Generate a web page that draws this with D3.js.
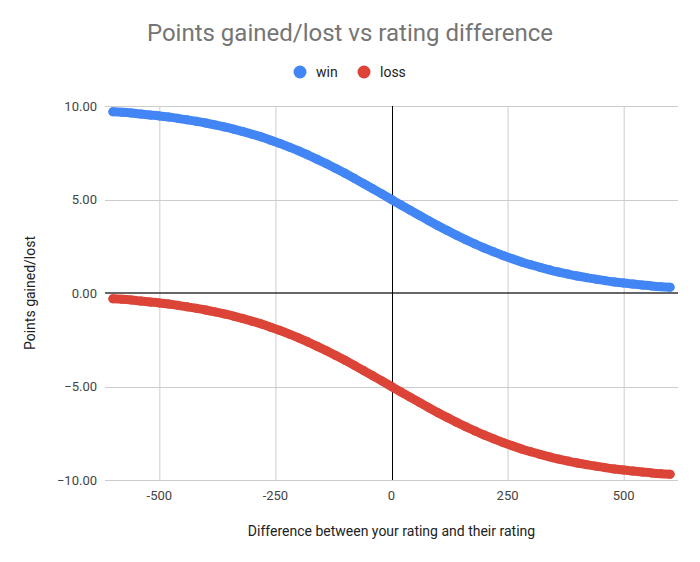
<!DOCTYPE html>
<html>
<head>
<meta charset="utf-8">
<title>Points gained/lost</title>
<style>
body {margin: 0; background: #fff;}
text {font-family: Roboto, "Noto Sans", sans-serif;}
</style>
</head>
<body>
<div id="chart"></div>
<script src="https://cdn.jsdelivr.net/npm/d3@7/dist/d3.min.js"></script>
<script>
// rating difference, every 20 points
var diffs = [-600, -580, -560, -540, -520, -500, -480, -460, -440, -420, -400,
	-380, -360, -340, -320, -300, -280, -260, -240, -220, -200,
	-180, -160, -140, -120, -100, -80, -60, -40, -20, 0,
	20, 40, 60, 80, 100, 120, 140, 160, 180, 200,
	220, 240, 260, 280, 300, 320, 340, 360, 380, 400,
	420, 440, 460, 480, 500, 520, 540, 560, 580, 600];

var win = [9.69, 9.66, 9.62, 9.57, 9.52, 9.47, 9.41, 9.34, 9.26, 9.18, 9.09,
	8.99, 8.88, 8.76, 8.63, 8.49, 8.34, 8.17, 7.99, 7.80, 7.60,
	7.38, 7.15, 6.91, 6.66, 6.40, 6.13, 5.85, 5.57, 5.29, 5.00,
	4.71, 4.43, 4.15, 3.87, 3.60, 3.34, 3.09, 2.85, 2.62, 2.40,
	2.20, 2.01, 1.83, 1.66, 1.51, 1.37, 1.24, 1.12, 1.01, 0.91,
	0.82, 0.74, 0.66, 0.59, 0.53, 0.48, 0.43, 0.38, 0.34, 0.31];

var loss = [-0.31, -0.34, -0.38, -0.43, -0.48, -0.53, -0.59, -0.66, -0.74, -0.82, -0.91,
	-1.01, -1.12, -1.24, -1.37, -1.51, -1.66, -1.83, -2.01, -2.20, -2.40,
	-2.62, -2.85, -3.09, -3.34, -3.60, -3.87, -4.15, -4.43, -4.71, -5.00,
	-5.29, -5.57, -5.85, -6.13, -6.40, -6.66, -6.91, -7.15, -7.38, -7.60,
	-7.80, -7.99, -8.17, -8.34, -8.49, -8.63, -8.76, -8.88, -8.99, -9.09,
	-9.18, -9.26, -9.34, -9.41, -9.47, -9.52, -9.57, -9.62, -9.66, -9.69];

var seriesNames = ['win', 'loss'];
var seriesColors = ['#4285f4', '#db4437'];
var xTicks = [-500, -250, 0, 250, 500];
var yTicks = [-10, -5, 0, 5, 10];

(function(d3) {
	var width = 700, height = 562;
	var left = 105, right = 678, top = 106, bottom = 480;

	var svg = d3.select('#chart').append('svg')
		.attr('width', width)
		.attr('height', height);

	var x = d3.scaleLinear().domain([-617, 617]).range([left, right]);
	var y = d3.scaleLinear().domain([-10, 10]).range([bottom, top]);

	// gridlines
	svg.append('g').selectAll('line.vg')
		.data(xTicks.filter(function(d) { return d !== 0; }))
		.enter().append('line')
		.attr('x1', function(d) { return x(d) + 0.5; })
		.attr('x2', function(d) { return x(d) + 0.5; })
		.attr('y1', top).attr('y2', bottom)
		.attr('stroke', '#cccccc').attr('stroke-width', 1);

	svg.append('g').selectAll('line.hg')
		.data(yTicks.filter(function(d) { return d !== 0; }))
		.enter().append('line')
		.attr('x1', left).attr('x2', right)
		.attr('y1', function(d) { return Math.round(y(d)) + 0.5; })
		.attr('y2', function(d) { return Math.round(y(d)) + 0.5; })
		.attr('stroke', '#cccccc').attr('stroke-width', 1);

	// zero lines
	svg.append('line')
		.attr('x1', left).attr('x2', right)
		.attr('y1', Math.round(y(0))).attr('y2', Math.round(y(0)))
		.attr('stroke', '#333333').attr('stroke-width', 1.5);
	svg.append('line')
		.attr('x1', Math.round(x(0)) + 0.5).attr('x2', Math.round(x(0)) + 0.5)
		.attr('y1', top).attr('y2', bottom)
		.attr('stroke', '#000000').attr('stroke-width', 1);

	// axis tick labels
	svg.append('g').selectAll('text')
		.data(yTicks)
		.enter().append('text')
		.attr('x', 97)
		.attr('y', function(d) { return y(d); })
		.attr('dy', '0.35em')
		.attr('text-anchor', 'end')
		.attr('font-size', 13)
		.attr('fill', '#444444')
		.text(d3.format('.2f'));

	svg.append('g').selectAll('text')
		.data(xTicks)
		.enter().append('text')
		.attr('x', function(d) { return x(d); })
		.attr('y', 495)
		.attr('dy', '0.35em')
		.attr('text-anchor', 'middle')
		.attr('font-size', 13)
		.attr('fill', '#444444')
		.text(function(d) { return d; });

	// series
	var series = [win, loss];
	var line = d3.line()
		.x(function(d, i) { return x(diffs[i]); })
		.y(function(d) { return y(d); })
		.curve(d3.curveMonotoneX);

	series.forEach(function(vals, s) {
		var g = svg.append('g');
		g.append('path')
			.datum(vals)
			.attr('d', line)
			.attr('fill', 'none')
			.attr('stroke', seriesColors[s])
			.attr('stroke-width', 9)
			.attr('stroke-linecap', 'round');
		g.selectAll('circle')
			.data(vals)
			.enter().append('circle')
			.attr('cx', function(d, i) { return x(diffs[i]); })
			.attr('cy', function(d) { return y(d); })
			.attr('r', 4.5)
			.attr('fill', seriesColors[s]);
	});

	// title
	svg.append('text')
		.attr('x', 350).attr('y', 33)
		.attr('dy', '0.35em')
		.attr('text-anchor', 'middle')
		.attr('font-size', 24)
		.attr('fill', '#757575')
		.text('Points gained/lost vs rating difference');

	// legend
	var legendX = [300, 364];
	var legend = svg.selectAll('.legend')
		.data(seriesNames)
		.enter().append('g')
		.attr('class', 'legend')
		.attr('transform', function(d, i) { return 'translate(' + legendX[i] + ',72)'; });
	legend.append('circle')
		.attr('r', 6.5)
		.attr('fill', function(d, i) { return seriesColors[i]; });
	legend.append('text')
		.attr('x', 16)
		.attr('dy', '0.35em')
		.attr('font-size', 14)
		.attr('fill', '#222222')
		.text(function(d) { return d; });

	// axis titles
	svg.append('text')
		.attr('x', (left + right) / 2).attr('y', 531)
		.attr('dy', '0.35em')
		.attr('text-anchor', 'middle')
		.attr('font-size', 14)
		.attr('fill', '#222222')
		.text('Difference between your rating and their rating');

	svg.append('text')
		.attr('transform', 'translate(30,' + (top + bottom) / 2 + ') rotate(-90)')
		.attr('dy', '0.35em')
		.attr('text-anchor', 'middle')
		.attr('font-size', 14)
		.attr('fill', '#222222')
		.text('Points gained/lost');
})(window.d3);
</script>
</body>
</html>
